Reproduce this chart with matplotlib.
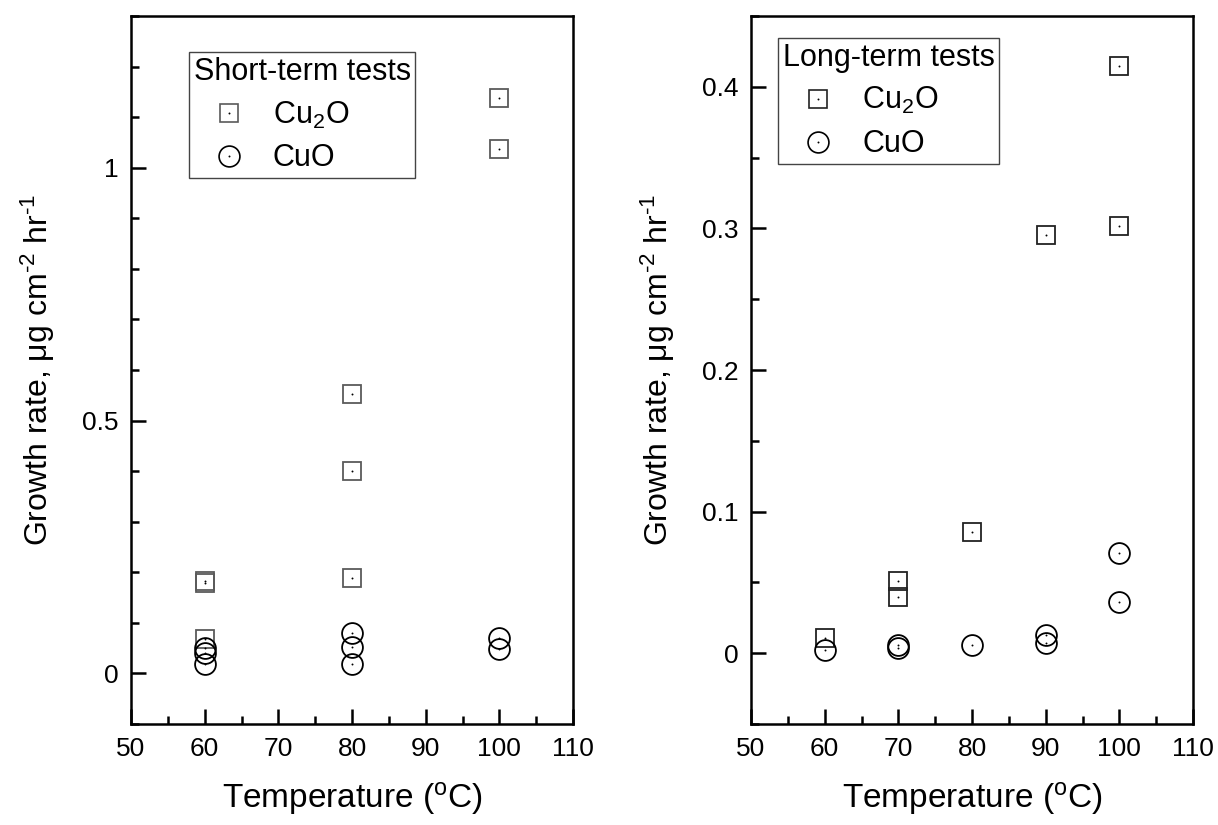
import numpy as np
import matplotlib.pyplot as plt
from matplotlib.ticker import MultipleLocator
from matplotlib.legend_handler import HandlerTuple

plt.rcParams['font.family'] = ['Liberation Sans', 'DejaVu Sans']
plt.rcParams['mathtext.fontset'] = 'custom'
plt.rcParams['mathtext.rm'] = 'Liberation Sans'
plt.rcParams['mathtext.it'] = 'Liberation Sans:italic'

# ── données : tests courts ──
short_cu2o_T = [60, 60, 60, 80, 80, 80, 100, 100]
short_cu2o_r = [0.178, 0.183, 0.068, 0.552, 0.401, 0.188, 1.137, 1.038]
short_cuo_T = [60, 60, 60, 80, 80, 80, 100, 100]
short_cuo_r = [0.051, 0.041, 0.018, 0.079, 0.053, 0.018, 0.071, 0.048]

# ── données : tests longs ──
long_cu2o_T = [60, 70, 70, 80, 90, 100, 100]
long_cu2o_r = [0.011, 0.051, 0.040, 0.0855, 0.295, 0.415, 0.302]
long_cuo_T = [60, 70, 70, 80, 90, 90, 100, 100]
long_cuo_r = [0.002, 0.006, 0.004, 0.006, 0.013, 0.007, 0.071, 0.036]

xticks = [50, 60, 70, 80, 90, 100, 110]

fig = plt.figure(figsize=(12.18, 8.25), dpi=100)
ax1 = fig.add_axes([0.1076, 0.1224, 0.3629, 0.8582])
ax2 = fig.add_axes([0.6166, 0.1224, 0.3629, 0.8582])

SQ_MS = 13.5
CI_MS = 15.0


def draw(ax, sqT, sqR, ciT, ciR, sq_color, title, ylim, ymaj, ymin, yfmt, anchor):
    ax.plot(sqT, sqR, 's', ms=SQ_MS, mfc='none', mec=sq_color, mew=1.3,
            ls='none', zorder=3)
    ax.plot(ciT, ciR, 'o', ms=CI_MS, mfc='none', mec='black', mew=1.3,
            ls='none', zorder=3)
    # petit point central (style Origin)
    ax.plot(list(sqT) + list(ciT), list(sqR) + list(ciR), 'o', ms=1.4,
            color='black', mew=0, ls='none', zorder=4)

    dot, = ax.plot([], [], 'o', ms=1.4, color='black', mew=0, ls='none')
    sq_l, = ax.plot([], [], 's', ms=SQ_MS, mfc='none', mec=sq_color, mew=1.2,
                    ls='none')
    ci_l, = ax.plot([], [], 'o', ms=CI_MS, mfc='none', mec='black', mew=1.2,
                    ls='none')
    leg = ax.legend([(sq_l, dot), (ci_l, dot)], ['Cu$_2$O', 'CuO'],
                    handler_map={tuple: HandlerTuple(ndivide=1, pad=0)},
                    title=title, alignment='left', loc='upper left',
                    bbox_to_anchor=anchor, fontsize=22, numpoints=1,
                    title_fontsize=22, frameon=True, fancybox=False,
                    edgecolor='#444444', framealpha=1, borderpad=0.15,
                    handletextpad=0.3, handlelength=2.3, labelspacing=0.42,
                    borderaxespad=0)
    leg.get_frame().set_linewidth(1.0)

    ax.set_xlim(50, 110)
    ax.set_ylim(*ylim)
    ax.set_xticks(xticks)
    ax.xaxis.set_minor_locator(MultipleLocator(5))
    ax.yaxis.set_major_locator(MultipleLocator(ymaj))
    ax.yaxis.set_minor_locator(MultipleLocator(ymin))
    ax.yaxis.set_major_formatter(yfmt)
    ax.tick_params(which='both', direction='in', top=False, right=False,
                   width=1.8, labelsize=19, pad=9)
    ax.tick_params(which='major', length=11)
    ax.tick_params(which='minor', length=6)
    for s in ax.spines.values():
        s.set_linewidth(1.8)
    ax.set_xlabel('Temperature ($\\mathregular{^o}$C)', fontsize=24, labelpad=14)
    ax.set_ylabel('Growth rate, \u03bcg cm$^{\\text{-2}}$ hr$^{\\text{-1}}$',
                  fontsize=23, labelpad=18)


draw(ax1, short_cu2o_T, short_cu2o_r, short_cuo_T, short_cuo_r, '#5a5a5a',
     'Short-term tests', (-0.1, 1.3), 0.5, 0.1,
     lambda v, p: '0' if abs(v) < 1e-9 else ('1' if abs(v - 1) < 1e-9 else f'{v:g}'),
     (0.131, 0.949))
draw(ax2, long_cu2o_T, long_cu2o_r, long_cuo_T, long_cuo_r, '#222222',
     'Long-term tests', (-0.05, 0.45), 0.1, 0.05,
     lambda v, p: '0' if abs(v) < 1e-9 else f'{v:.1f}',
     (0.061, 0.969))

plt.savefig('out.png', dpi=100)
